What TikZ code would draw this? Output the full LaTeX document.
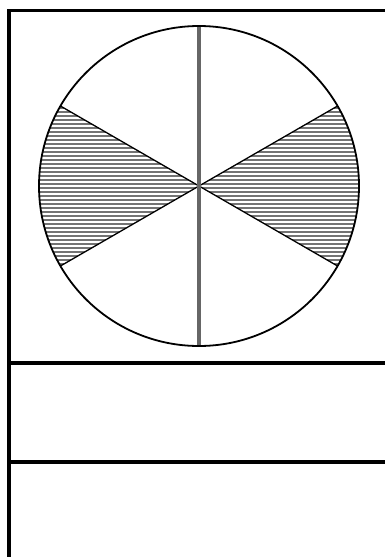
\documentclass[tikz,border=0pt]{standalone}
\usepackage{tikz}

\begin{document}
\begin{tikzpicture}[x=1pt,y=-1pt]
\tikzstyle{frame}=[line width=3.5pt]
\tikzstyle{hatch}=[black!55,line width=2.5pt]
\tikzstyle{spoke}=[line width=1.3pt]
\useasboundingbox (0,0) rectangle (385,557);
\coordinate (o) at (199,186);
% shaded sectors
\foreach \a in {0,180} { \begin{scope} \clip (o) -- ++(\a-30:160) arc[start angle=\a-30,end angle=\a+30,radius=160] -- cycle; \foreach \y in {28,32,...,346} \draw[hatch] (30,\y) -- (370,\y); \end{scope} }
\foreach \a in {30,150,210,330} \draw[spoke] (o) -- ++(\a:160);
\draw[black!60,line width=3.5pt] (o) ++(0,-160) coordinate (top) -- ++(0,320) coordinate (bot);
\draw[line width=1.8pt] (o) circle[radius=160];
% table frame
\draw[frame] (9,557) -- (9,10.5) -- (385,10.5);
\draw[frame] (9,363) -- (385,363);
\draw[frame] (9,462) -- (385,462);
\end{tikzpicture}
\end{document}
